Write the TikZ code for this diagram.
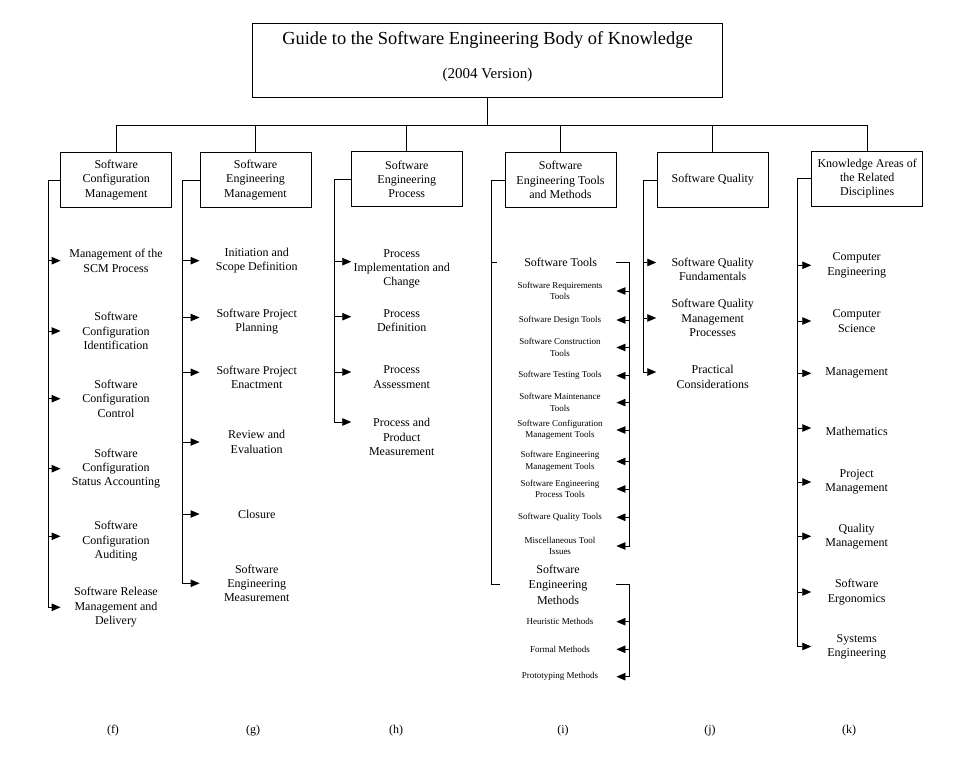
\documentclass[tikz,border=0pt]{standalone}
\usepackage{fontspec}
\setmainfont{Liberation Serif}
\usetikzlibrary{arrows.meta}

\begin{document}
\begin{tikzpicture}[x=1pt, y=-1pt, line width=0.9pt,
  box/.style={draw, align=center, minimum width=111pt, minimum height=55pt, inner sep=2pt, font=\fontsize{12}{14.3}\selectfont},
  txt/.style={align=center, inner xsep=0pt, minimum width=#1, font=\fontsize{12}{14.3}\selectfont},
  sml/.style={align=center, inner xsep=0pt, minimum width=112pt, font=\fontsize{9}{11.5}\selectfont},
  arr/.style={-{Triangle[length=9pt,width=7.5pt]}}]
\useasboundingbox (0,0) rectangle (962,775);

% title
\node[draw, align=center, minimum width=470pt, minimum height=74pt, text depth=10.5pt, font=\fontsize{12}{14}\selectfont] (top) at (487.5,60.3) {{\fontsize{18.4}{20}\selectfont Guide to the Software Engineering Body of Knowledge}\\[18pt]{\fontsize{15}{17}\selectfont (2004 Version)}};

% knowledge areas
\node[box] (scm) at (116.2,180) {Software\\Configuration\\Management};
\node[box] (sem) at (255.5,180) {Software\\Engineering\\Management};
\node[box] (sep) at (406.8,179.3) {Software\\Engineering\\Process};
\node[box] (stm) at (560.5,180) {Software\\Engineering Tools\\and Methods};
\node[box] (sq) at (712.8,180) {Software Quality};
\node[box] (ka) at (867.2,178.5) {Knowledge Areas of\\the Related\\Disciplines};

\coordinate (bus) at (491.7,125);
\draw (top.south) -- (top.south |- bus);
\draw (scm.north) -- (scm.north |- bus) -- (ka.north |- bus) -- (ka.north);
\draw (sem.north) -- (sem.north |- bus);
\draw (sep.north) -- (sep.north |- bus);
\draw (stm.north) -- (stm.north |- bus);
\draw (sq.north) -- (sq.north |- bus);

% configuration management
\node[txt=110pt] (m1) at (116,260.7) {Management of the\\SCM Process};
\node[txt=110pt] (m2) at (116,331) {Software\\Configuration\\Identification};
\node[txt=110pt] (m3) at (116,398.7) {Software\\Configuration\\Control};
\node[txt=110pt] (m4) at (116,468.7) {Software\\Configuration\\Status Accounting};
\node[txt=110pt] (m5) at (116,541.3) {Software\\Configuration\\Auditing};
\node[txt=110pt] (m6) at (116,607.3) {Software Release\\Management and\\Delivery};
\coordinate (s1) at (48.3,180);
\draw[arr] (scm.west) -- (s1) |- (m6.west);
\draw[arr] (s1 |- m1.west) -- (m1.west);
\draw[arr] (s1 |- m2.west) -- (m2.west);
\draw[arr] (s1 |- m3.west) -- (m3.west);
\draw[arr] (s1 |- m4.west) -- (m4.west);
\draw[arr] ([yshift=5pt]s1 |- m5.west) -- ([yshift=5pt]m5.west);

% engineering management
\node[txt=113.4pt] (e1) at (256.7,260.7) {Initiation and\\Scope Definition};
\node[txt=113.4pt] (e2) at (256.7,321.5) {Software Project\\Planning};
\node[txt=113.4pt] (e3) at (256.7,377.3) {Software Project\\Enactment};
\node[txt=113.4pt] (e4) at (256.7,442) {Review and\\Evaluation};
\node[txt=113.4pt] (e5) at (256.7,514) {Closure};
\node[txt=113.4pt] (e6) at (256.7,583.3) {Software\\Engineering\\Measurement};
\coordinate (s2) at (182.3,180);
\draw[arr] (sem.west) -- (s2) |- (e6.west);
\draw[arr] (s2 |- e1.west) -- (e1.west);
\draw[arr] ([yshift=4pt]s2 |- e2.west) -- ([yshift=4pt]e2.west);
\draw[arr] ([yshift=5pt]s2 |- e3.west) -- ([yshift=5pt]e3.west);
\draw[arr] (s2 |- e4.west) -- (e4.west);
\draw[arr] (s2 |- e5.west) -- (e5.west);

% engineering process
\node[txt=100pt] (p1) at (401.7,268.7) {Process\\Implementation and\\Change};
\node[txt=100pt] (p2) at (401.7,320.7) {Process\\Definition};
\node[txt=100pt] (p3) at (401.7,377) {Process\\Assessment};
\node[txt=100pt] (p4) at (401.7,437) {Process and\\Product\\Measurement};
\coordinate (s3) at (334,179.3);
\draw[arr] (sep.west) -- (s3) |- ([yshift=15pt]p4.west);
\draw[arr] ([yshift=7pt]s3 |- p1.west) -- ([yshift=7pt]p1.west);
\draw[arr] ([yshift=4pt]s3 |- p2.west) -- ([yshift=4pt]p2.west);
\draw[arr] ([yshift=5pt]s3 |- p3.west) -- ([yshift=5pt]p3.west);

% tools and methods
\node[txt=110.6pt] (st) at (560.7,262.5) {Software Tools};
\node[sml] (t1) at (560,291) {Software Requirements\\Tools};
\node[sml] (t2) at (560,320) {Software Design Tools};
\node[sml] (t3) at (560,347.5) {Software Construction\\Tools};
\node[sml] (t4) at (560,375.7) {Software Testing Tools};
\node[sml] (t5) at (560,402.6) {Software Maintenance\\Tools};
\node[sml] (t6) at (560,430) {Software Configuration\\Management Tools};
\node[sml] (t7) at (560,461.5) {Software Engineering\\Management Tools};
\node[sml] (t8) at (560,489) {Software Engineering\\Process Tools};
\node[sml] (t9) at (560,517.3) {Software Quality Tools};
\node[sml] (t10) at (560,546) {Miscellaneous Tool\\Issues};
\node[txt=116pt, font=\fontsize{12}{15.5}\selectfont] (mth) at (558,584.5) {Software\\Engineering\\Methods};
\node[sml] (h1) at (560,621.7) {Heuristic Methods};
\node[sml] (h2) at (560,649.3) {Formal Methods};
\node[sml] (h3) at (560,676.7) {Prototyping Methods};
\coordinate (s4) at (491,180);
\draw (stm.west) -- (s4) |- (mth.west);
\draw (s4 |- st.west) -- ++(5.7,0);
\coordinate (r1) at (629,262.5);
\draw[arr] (st.east) -- (r1) |- (t10.east);
\draw[arr] (r1 |- t1.east) -- (t1.east);
\draw[arr] (r1 |- t2.east) -- (t2.east);
\draw[arr] (r1 |- t3.east) -- (t3.east);
\draw[arr] (r1 |- t4.east) -- (t4.east);
\draw[arr] (r1 |- t5.east) -- (t5.east);
\draw[arr] (r1 |- t6.east) -- (t6.east);
\draw[arr] (r1 |- t7.east) -- (t7.east);
\draw[arr] (r1 |- t8.east) -- (t8.east);
\draw[arr] (r1 |- t9.east) -- (t9.east);
\coordinate (r2) at (629,584.5);
\draw[arr] (mth.east) -- (r2) |- (h3.east);
\draw[arr] (r2 |- h1.east) -- (h1.east);
\draw[arr] (r2 |- h2.east) -- (h2.east);

% quality
\node[txt=112pt] (q1) at (712.7,269.5) {Software Quality\\Fundamentals};
\node[txt=112pt] (q2) at (712.7,318) {Software Quality\\Management\\Processes};
\node[txt=112pt] (q3) at (712.7,377) {Practical\\Considerations};
\coordinate (s5) at (643.3,180);
\draw[arr] (sq.west) -- (s5) |- ([yshift=5pt]q3.west);
\draw[arr] ([yshift=7pt]s5 |- q1.west) -- ([yshift=7pt]q1.west);
\draw[arr] (s5 |- q2.west) -- (q2.west);

% related disciplines
\node[txt=90pt] (k1) at (856.7,265.3) {Computer\\Engineering};
\node[txt=90pt] (k2) at (856.7,321) {Computer\\Science};
\node[txt=90pt] (k3) at (856.7,373.3) {Management};
\node[txt=90pt] (k4) at (856.7,431) {Mathematics};
\node[txt=90pt] (k5) at (856.7,482) {Project\\Management};
\node[txt=90pt] (k6) at (856.7,536.3) {Quality\\Management};
\node[txt=90pt] (k7) at (856.7,592) {Software\\Ergonomics};
\node[txt=90pt] (k8) at (856.7,646.5) {Systems\\Engineering};
\coordinate (s6) at (797.3,178.5);
\draw[arr] (ka.west) -- (s6) |- (k8.west);
\draw[arr] (s6 |- k1.west) -- (k1.west);
\draw[arr] (s6 |- k2.west) -- (k2.west);
\draw[arr] (s6 |- k3.west) -- (k3.west);
\draw[arr] ([yshift=3pt]s6 |- k4.west) -- ([yshift=3pt]k4.west);
\draw[arr] (s6 |- k5.west) -- (k5.west);
\draw[arr] (s6 |- k6.west) -- (k6.west);
\draw[arr] (s6 |- k7.west) -- (k7.west);

% panel letters
\node[font=\fontsize{12}{14}\selectfont] (lf) at (113,731) {(f)};
\node[font=\fontsize{12}{14}\selectfont] (lg) at (253,731) {(g)};
\node[font=\fontsize{12}{14}\selectfont] (lh) at (396,731) {(h)};
\node[font=\fontsize{12}{14}\selectfont] (li) at (563,731) {(i)};
\node[font=\fontsize{12}{14}\selectfont] (lj) at (710,731) {(j)};
\node[font=\fontsize{12}{14}\selectfont] (lk) at (849,731) {(k)};
\end{tikzpicture}
\end{document}
